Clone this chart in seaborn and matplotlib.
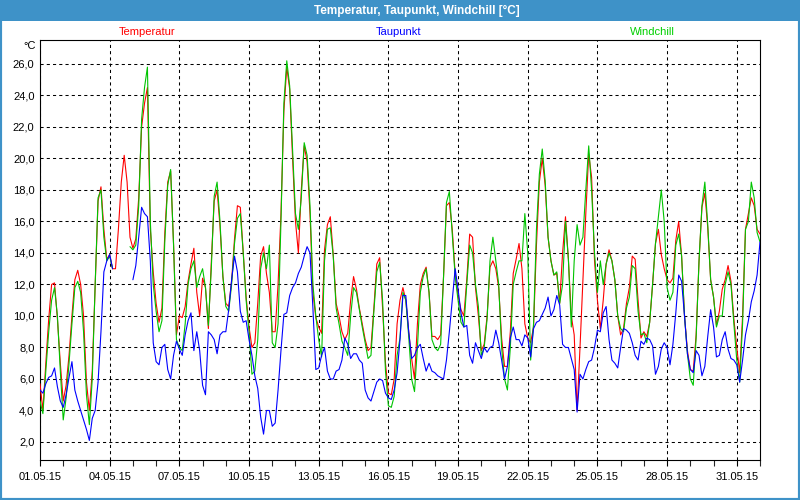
import numpy as np
import pandas as pd
import matplotlib
matplotlib.use("Agg")
import matplotlib.pyplot as plt
from matplotlib.patches import Rectangle
import seaborn as sns

nan = np.nan

# 3-hourly values, 01.05.15 00:00 ... 01.06.15 00:00
temperatur = [
    5.7, 4.0, 7.0, 9.8, 12.0, 12.1, 9.8, 7.0,
    4.6, 5.6, 7.5, 10.0, 12.3, 12.9, 12.0, 10.0,
    5.8, 4.0, 6.5, 12.0, 17.3, 18.2, 15.5, 13.6,
    13.9, 13.0, 13.0, 15.5, 18.5, 20.2, 18.5, 15.0,
    14.3, 14.9, 17.5, 22.0, 23.5, 24.5, 15.5, 12.8,
    10.8, 9.6, 10.5, 15.3, 18.5, 19.2, 14.6, 8.8,
    10.0, 9.9, 10.6, 12.2, 13.3, 14.3, 11.5, 10.0,
    12.4, 11.8, 9.2, 13.4, 17.3, 18.0, 15.7, 12.5,
    10.8, 10.6, 12.2, 14.9, 17.0, 16.9, 14.0, 11.2,
    9.3, 8.0, 8.3, 10.8, 13.8, 14.4, 12.7, 11.5,
    9.0, 9.0, 12.0, 16.5, 23.0, 25.8, 24.4, 20.0,
    16.0, 14.0, 18.0, 20.8, 19.8, 16.5, 11.5, 9.9,
    9.3, 8.9, 14.2, 15.8, 16.3, 13.9, 10.8, 10.0,
    9.0, 8.5, 8.9, 11.0, 12.5, 11.7, 10.5, 9.5,
    8.5, 7.8, 8.0, 10.5, 13.3, 13.7, 10.5, 7.0,
    5.1, 5.0, 6.0, 9.5, 11.0, 11.8, 11.0, 9.0,
    7.3, 6.0, 9.5, 12.0, 12.7, 13.1, 11.5, 8.7,
    8.7, 8.5, 8.8, 12.5, 17.0, 17.2, 15.5, 12.7,
    11.3, 10.4, 10.0, 12.3, 15.2, 15.0, 11.8, 10.0,
    7.8, 8.2, 10.0, 13.1, 13.5, 13.0, 11.8, 8.6,
    6.8, 6.8, 9.0, 12.7, 13.6, 14.6, 13.0, 9.5,
    8.6, 8.3, 9.3, 14.5, 18.5, 20.0, 18.3, 15.0,
    13.5, 12.6, 12.7, 10.8, 14.0, 16.3, 13.6, 10.0,
    8.8, 4.0, 8.0, 12.3, 16.5, 20.3, 18.8, 13.5,
    11.0, 9.2, 11.0, 13.3, 14.2, 13.5, 12.3, 10.0,
    8.8, 9.2, 10.8, 11.8, 13.8, 13.6, 11.0, 8.6,
    9.0, 8.7, 9.6, 12.0, 14.6, 15.5, 13.9, 13.0,
    12.3, 12.1, 12.4, 14.8, 16.0, 13.8, 10.0, 7.8,
    6.6, 6.5, 8.8, 13.5, 16.9, 17.8, 15.6, 12.3,
    11.2, 9.4, 10.3, 11.7, 12.3, 13.2, 12.2, 9.8,
    8.0, 6.4, 10.0, 15.5, 16.5, 17.5, 17.0, 15.5,
    15.2]

windchill = [
    4.6, 3.8, 6.5, 9.0, 11.0, 11.8, 10.0, 6.5,
    3.4, 4.8, 7.0, 9.5, 11.8, 12.2, 11.5, 9.0,
    5.0, 3.1, 6.0, 12.0, 17.5, 18.0, 15.0, 13.5,
    13.8, 13.0, nan, nan, nan, nan, nan, 14.4,
    14.2, 14.5, 17.0, 22.5, 24.5, 25.8, 16.0, 12.0,
    10.3, 9.0, 9.7, 14.8, 18.3, 19.3, 14.5, 8.5,
    8.0, 7.8, 9.5, 12.0, 13.0, 13.5, 11.8, 12.5,
    13.0, 11.8, 9.4, 13.0, 17.6, 18.5, 16.0, 12.5,
    10.6, 10.3, 12.0, 14.6, 16.2, 16.5, 14.0, 11.0,
    9.0, 6.3, 6.5, 8.5, 13.0, 14.0, 13.0, 14.5,
    8.3, 8.0, 9.5, 16.0, 23.5, 26.2, 24.6, 20.5,
    16.5, 15.5, 17.5, 21.0, 20.2, 17.0, 12.0, 10.0,
    8.5, 7.4, 13.5, 15.5, 15.6, 13.8, 10.5, 9.5,
    8.4, 8.0, 7.5, 10.0, 11.8, 11.5, 10.4, 9.3,
    8.3, 7.3, 7.5, 10.3, 12.8, 13.4, 11.0, 6.5,
    4.3, 4.2, 4.9, 7.5, 8.6, 11.5, 11.0, 8.7,
    6.0, 5.2, 8.0, 11.5, 12.5, 13.0, 11.5, 8.5,
    8.0, 7.8, 8.2, 12.5, 17.2, 17.9, 15.2, 12.5,
    11.0, 9.6, 9.3, 12.0, 14.5, 14.0, 12.0, 10.6,
    7.5, 8.0, 9.8, 13.5, 15.0, 13.5, 12.0, 8.0,
    6.0, 5.3, 8.0, 12.0, 12.8, 13.5, 13.5, 16.5,
    14.0, 7.2, 9.5, 15.5, 19.0, 20.6, 18.6, 15.0,
    13.5, 12.6, 12.8, 10.8, 12.0, 16.0, 13.6, 9.3,
    13.5, 15.8, 14.5, 15.0, 18.0, 20.8, 18.0, 14.0,
    11.5, 13.5, 12.0, 13.3, 14.0, 13.5, 12.3, 10.0,
    9.2, 9.0, 10.5, 11.2, 13.2, 13.0, 10.3, 8.8,
    8.9, 8.3, 9.6, 12.0, 14.6, 16.3, 18.0, 16.0,
    11.8, 11.0, 11.5, 14.5, 15.2, 13.8, 10.0, 7.6,
    6.0, 5.6, 8.6, 13.5, 17.0, 18.5, 15.8, 12.3,
    11.2, 9.3, 10.0, 10.0, 12.0, 12.8, 12.0, 9.5,
    7.2, 5.8, 9.5, 15.5, 16.0, 18.5, 17.5, 15.3,
    14.7]

taupunkt = [
    5.3, 5.1, 5.7, 6.1, 6.2, 6.7, 5.5, 4.6,
    4.2, 5.0, 6.1, 7.1, 5.3, 4.6, 4.0, 3.4,
    2.8, 2.1, 3.5, 4.0, 5.8, 9.0, 12.8, 13.5,
    13.9, 13.0, nan, nan, nan, nan, nan, nan,
    12.3, 13.2, 15.0, 16.9, 16.5, 16.3, 13.5, 8.3,
    7.1, 6.9, 8.0, 8.2, 6.6, 6.0, 7.5, 8.4,
    7.9, 7.5, 8.8, 9.7, 10.2, 7.8, 9.0, 7.8,
    5.6, 5.0, 9.0, 8.8, 8.5, 7.6, 8.8, 9.0,
    9.0, 10.4, 12.3, 13.8, 12.8, 10.3, 9.6, 9.7,
    8.5, 7.5, 6.2, 5.4, 3.6, 2.5, 4.0, 4.0,
    3.0, 3.2, 5.3, 7.8, 10.1, 10.2, 11.3, 11.8,
    12.1, 12.7, 13.1, 13.8, 14.4, 14.0, 10.5, 6.6,
    6.7, 7.5, 8.0, 6.5, 6.0, 6.0, 6.5, 6.6,
    7.2, 8.6, 8.2, 7.3, 7.6, 7.6, 7.2, 7.0,
    5.3, 4.8, 4.6, 5.2, 5.8, 6.0, 5.9, 5.1,
    4.8, 4.7, 5.3, 6.4, 8.5, 11.3, 11.3, 9.0,
    7.3, 7.5, 8.0, 8.2, 7.3, 6.5, 7.0, 6.5,
    6.4, 6.2, 6.1, 6.0, 7.2, 9.0, 11.0, 13.0,
    11.7, 10.2, 9.3, 9.4, 7.5, 7.0, 8.3, 7.8,
    7.3, 8.0, 7.7, 8.0, 8.1, 9.1, 8.3, 7.2,
    6.0, 6.8, 8.6, 9.3, 8.5, 8.5, 8.1, 8.8,
    8.6, 7.4, 9.2, 9.6, 9.7, 10.1, 10.5, 11.2,
    10.0, 10.4, 11.3, 10.7, 8.2, 8.0, 8.0, 7.3,
    6.6, 3.9, 6.3, 6.0, 6.6, 7.1, 7.2, 8.0,
    9.1, 9.0, 10.2, 10.6, 8.5, 7.2, 7.0, 6.7,
    8.0, 9.2, 9.1, 8.9, 8.3, 7.5, 7.2, 8.4,
    8.2, 8.6, 8.5, 8.1, 6.3, 6.8, 7.9, 8.3,
    8.0, 6.9, 8.2, 10.2, 12.6, 12.2, 10.0, 7.6,
    6.6, 6.4, 7.8, 7.5, 6.2, 6.8, 8.7, 10.4,
    9.3, 7.4, 7.5, 8.5, 9.0, 7.9, 7.3, 7.2,
    6.9, 5.8, 7.2, 8.8, 9.7, 10.9, 11.6, 12.6,
    14.7]

tick_labels = ["01.05.15", "04.05.15", "07.05.15", "10.05.15", "13.05.15", "16.05.15",
               "19.05.15", "22.05.15", "25.05.15", "28.05.15", "31.05.15"]
y_ticks = list(range(2, 27, 2))
title = "Temperatur, Taupunkt, Windchill [°C]"
series_names = ["Temperatur", "Taupunkt", "Windchill"]

RED = "#ff0000"
BLUE = "#0000ff"
GREEN = "#00c400"
FRAME = "#3e92c8"

sns.set_theme(style="white")
plt.rcParams["font.family"] = ["Liberation Sans", "DejaVu Sans"]

days = np.arange(len(temperatur)) / 8.0


def frame(vals):
    v = np.asarray(vals, dtype=float)
    seg = np.cumsum(np.isnan(v))
    m = ~np.isnan(v)
    return pd.DataFrame({"t": days[m], "v": v[m], "seg": seg[m]})


fig = plt.figure(figsize=(8, 5), dpi=100, facecolor="white")
ax = fig.add_axes([40 / 800, 40 / 500, 720 / 800, 420 / 500])
ax.set_facecolor("white")

for vals, col, z in [(temperatur, RED, 3), (windchill, GREEN, 4), (taupunkt, BLUE, 5)]:
    sns.lineplot(data=frame(vals), x="t", y="v", units="seg", estimator=None,
                 color=col, linewidth=0.8, ax=ax, legend=False, sort=False, zorder=z)

ax.set_xlim(0, 31)
ax.set_ylim(0.857, 27.52)
ax.set_xlabel("")
ax.set_ylabel("")

ax.set_xticks(np.arange(len(tick_labels)) * 3)
ax.set_xticklabels(tick_labels)
ax.set_xticks(np.arange(0, 32), minor=True)
ax.set_yticks(y_ticks)
ax.set_yticklabels([f"{v:.1f}".replace(".", ",") for v in y_ticks])

ax.set_axisbelow(True)
ax.grid(True, which="major", color="black", linestyle=(0, (3, 3)), linewidth=0.75)

ax.tick_params(axis="x", which="major", direction="out", length=4, width=0.8,
               pad=5, labelsize=8, colors="black", bottom=True)
ax.tick_params(axis="x", which="minor", direction="out", length=4, width=0.8, bottom=True)
ax.tick_params(axis="y", which="major", length=0, pad=4, labelsize=8, colors="black", left=True)
for s in ax.spines.values():
    s.set_visible(True)
    s.set_color("black")
    s.set_linewidth(0.8)

# window chrome
fig.patches.append(Rectangle((0, 1 - 21 / 500), 1, 21 / 500, transform=fig.transFigure,
                             facecolor=FRAME, edgecolor="none", zorder=0))
fig.patches.append(Rectangle((0, 0), 1, 1, transform=fig.transFigure,
                             fill=False, edgecolor=FRAME, linewidth=3, zorder=1))
fig.text(417 / 800, 1 - 10.5 / 500, title, color="white", fontsize=8.5,
         fontweight="bold", ha="center", va="center")

for name, col, xc in zip(series_names, [RED, BLUE, "#00d000"], [147, 399, 652]):
    fig.text(xc / 800, 1 - 32 / 500, name, color=col, fontsize=8, ha="center", va="center")

fig.text(36 / 800, 1 - 46 / 500, "°C", color="black", fontsize=8, ha="right", va="center")

fig.savefig("out.png", dpi=100, facecolor="white")
